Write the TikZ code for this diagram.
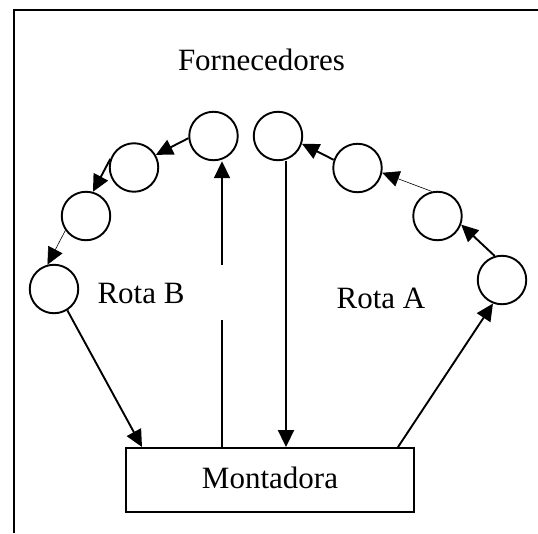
\documentclass[tikz,border=0pt]{standalone}
\usepackage{fontspec}
\setmainfont{Liberation Serif}
\usetikzlibrary{arrows.meta}
\begin{document}
\begin{tikzpicture}[x=1pt,y=-1pt,
  sup/.style={circle,draw,line width=1.9pt,minimum size=48.5pt,inner sep=0pt},
  lbl/.style={font=\fontsize{31}{36}\selectfont,anchor=base,inner sep=0pt},
  arr/.style={line width=1.9pt,-{Triangle[length=17pt,width=16pt]}},
  thinarr/.style={line width=0.6pt,-{Triangle[length=17pt,width=16pt]}},
  plain/.style={line width=1.9pt}]
\useasboundingbox (0,0) rectangle (538,533);
\draw[line width=2.2pt] (14,533) -- (14,10) -- (538,10);
% suppliers
\node[sup] (B1) at (213.5,136) {};
\node[sup] (B2) at (134,167.5) {};
\node[sup] (B3) at (86,216) {};
\node[sup] (B4) at (54,289) {};
\node[sup] (A1) at (278,136) {};
\node[sup] (A2) at (357.5,168) {};
\node[sup] (A3) at (437.5,216) {};
\node[sup] (A4) at (502,280) {};
% assembler
\node[draw,line width=1.9pt,minimum width=288pt,minimum height=64pt,inner sep=0pt] (M) at (270,480) {};
\node[lbl] (Mt) at (270,488) {Montadora};
\node[lbl] (F) at (261.5,70) {Fornecedores};
\node[lbl] (RB) at (141,303) {Rota B};
\node[lbl] (RA) at (381,308) {Rota A};
% connectors
\coordinate (MB) at (M.north west -| 142,0);
\coordinate (MBu) at (M.north -| 222,0);
\coordinate (MAd) at (M.north -| 286,0);
\coordinate (MA) at (M.north -| 398,0);
\draw[arr] (B4.302) -- (MB);
\draw[arr] (MBu) -- (MBu |- B1.south);
\draw[white,line width=2.6pt] (222,265) -- (222,320);
\draw[arr] (A1.south -| 286,0) -- (MAd);
\draw[arr] (MA) -- (A4.249);
\draw[arr] (A4.107) -- (A3.340);
\draw[thinarr] (A3.103) -- (A2.349);
\draw[arr] (A2.161) -- (A1.342);
\draw[arr] (B1.185) -- (B2.30);
\draw[arr] (B2.160) -- (B3.74);
\draw[thinarr] (B3.215) -- (B4.105);
\end{tikzpicture}
\end{document}
